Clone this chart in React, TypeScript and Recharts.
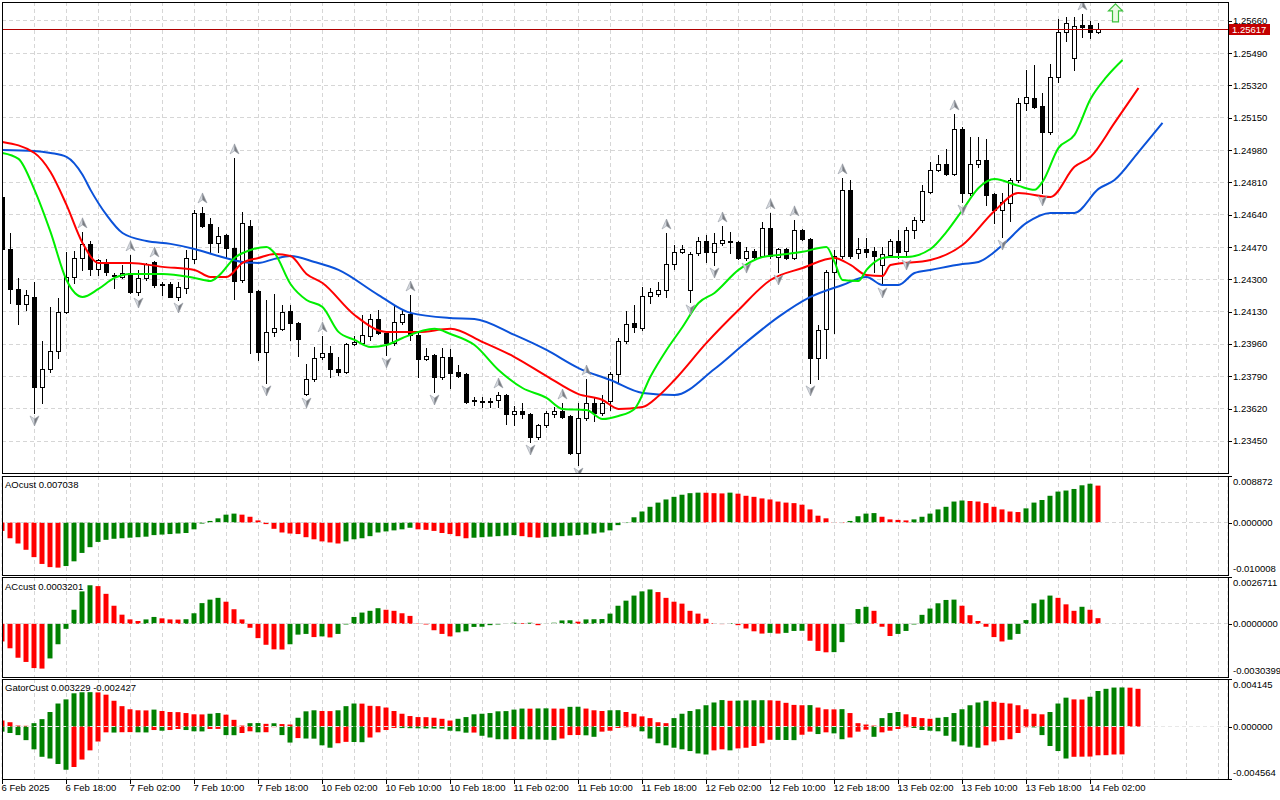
import React from "react";
import {
  ComposedChart,
  Bar,
  Line,
  Scatter,
  XAxis,
  YAxis,
  CartesianGrid,
  ReferenceLine,
  Cell,
} from "recharts";

const FONT = "'Liberation Sans', Arial, sans-serif";
const FS = 9.5;
const CHART_W = 1280;
const AXIS_W = 52;
const PLOT_RIGHT = CHART_W - AXIS_W; // 1228
const X_DOMAIN: [number, number] = [-0.0625, 153.1875];
const GRID_X = Array.from({ length: 39 }, (_, j) => j * 4);
const GRID_COLOR = "#d6d6d6";
const GRID_DASH = "4 3";
const UP_COL = "#008000";
const DN_COL = "#ff0000";

// H1 candles, 6 Feb 10:00 .. 14 Feb 03:00 : [open, high, low, close]
const ohlc: [number, number, number, number][] = [
  [1.24734, 1.24744, 1.24455, 1.2446], [1.2446, 1.24544, 1.24176, 1.2425], [1.2425, 1.24308, 1.24066, 1.24171],
  [1.24171, 1.24245, 1.24139, 1.24218], [1.24208, 1.24287, 1.23598, 1.23734], [1.23734, 1.23976, 1.2365, 1.23829],
  [1.23829, 1.24155, 1.23813, 1.23924], [1.23924, 1.24203, 1.23887, 1.24129], [1.24129, 1.24444, 1.24124, 1.24313],
  [1.24313, 1.2445, 1.24281, 1.24413], [1.24413, 1.2455, 1.2435, 1.24487], [1.24487, 1.24502, 1.24323, 1.24355],
  [1.24355, 1.24408, 1.24323, 1.24402], [1.24392, 1.24408, 1.24323, 1.24339], [1.24318, 1.24334, 1.24255, 1.24323],
  [1.24313, 1.24376, 1.24308, 1.24334], [1.24334, 1.24429, 1.24229, 1.24234], [1.24234, 1.2435, 1.24218, 1.24308],
  [1.24308, 1.24387, 1.24297, 1.24381], [1.24392, 1.24397, 1.2426, 1.24271], [1.24276, 1.24287, 1.24218, 1.24274],
  [1.24276, 1.24287, 1.24205, 1.24208], [1.24208, 1.24287, 1.24192, 1.2426], [1.24255, 1.24455, 1.24229, 1.24413],
  [1.24408, 1.24665, 1.24387, 1.2465], [1.2465, 1.24681, 1.24576, 1.24581], [1.24592, 1.24623, 1.24445, 1.24492],
  [1.24492, 1.24576, 1.24445, 1.24529], [1.24534, 1.2454, 1.24413, 1.24466], [1.24466, 1.24939, 1.24197, 1.24292],
  [1.24297, 1.24655, 1.24287, 1.24597], [1.24581, 1.24613, 1.23913, 1.24234], [1.24239, 1.24245, 1.23876, 1.23919],
  [1.23919, 1.24192, 1.23756, 1.24024], [1.24024, 1.24224, 1.24003, 1.24045], [1.2404, 1.24166, 1.24034, 1.24129],
  [1.24134, 1.24166, 1.23982, 1.24071], [1.24071, 1.24076, 1.23897, 1.23987], [1.23697, 1.23855, 1.23692, 1.23776],
  [1.23776, 1.23945, 1.23766, 1.23887], [1.23892, 1.24003, 1.23882, 1.23913], [1.23913, 1.2395, 1.23787, 1.23829],
  [1.23829, 1.23892, 1.23797, 1.23813], [1.23813, 1.23966, 1.23808, 1.23961], [1.23961, 1.24003, 1.23955, 1.23971],
  [1.23966, 1.24113, 1.23961, 1.24008], [1.24003, 1.24118, 1.23982, 1.24092], [1.24092, 1.24139, 1.24013, 1.24019],
  [1.24019, 1.24024, 1.23903, 1.23966], [1.23966, 1.24166, 1.23955, 1.24076], [1.24076, 1.24145, 1.24066, 1.24118],
  [1.24118, 1.24218, 1.23982, 1.24008], [1.24008, 1.24019, 1.23787, 1.23882], [1.23882, 1.2394, 1.23876, 1.23897],
  [1.23903, 1.23908, 1.23708, 1.23787], [1.23787, 1.2394, 1.23776, 1.23892], [1.23892, 1.23934, 1.23729, 1.23808],
  [1.23813, 1.2385, 1.23788, 1.23792], [1.23803, 1.23808, 1.2365, 1.23656], [1.23666, 1.23682, 1.2364, 1.23661],
  [1.23661, 1.23682, 1.23629, 1.23659], [1.23661, 1.23676, 1.23629, 1.23656], [1.23666, 1.23708, 1.23629, 1.23692],
  [1.23692, 1.23697, 1.2354, 1.23592], [1.23592, 1.23634, 1.23535, 1.23608], [1.23608, 1.2365, 1.23571, 1.23592],
  [1.23592, 1.23597, 1.23445, 1.23471], [1.23471, 1.2354, 1.23461, 1.23535], [1.23535, 1.23608, 1.23524, 1.23598],
  [1.23592, 1.23629, 1.23577, 1.23608], [1.23608, 1.2365, 1.23571, 1.23577], [1.23582, 1.23587, 1.23382, 1.23387],
  [1.23387, 1.2365, 1.23324, 1.23571], [1.23571, 1.23776, 1.23561, 1.2365], [1.2365, 1.23682, 1.23556, 1.23598],
  [1.23598, 1.23692, 1.23587, 1.2365], [1.23661, 1.23813, 1.23613, 1.23803], [1.23803, 1.23992, 1.23761, 1.23976],
  [1.23976, 1.24134, 1.23966, 1.24066], [1.24071, 1.24166, 1.24024, 1.2405], [1.24045, 1.2426, 1.24034, 1.24213],
  [1.24213, 1.24255, 1.24176, 1.24234], [1.24224, 1.24287, 1.24213, 1.24245], [1.24245, 1.24544, 1.24208, 1.24381],
  [1.24381, 1.24481, 1.24355, 1.24445], [1.24445, 1.24481, 1.24439, 1.2446], [1.24245, 1.24445, 1.24182, 1.24434],
  [1.24439, 1.24523, 1.24429, 1.24502], [1.24502, 1.24534, 1.24392, 1.24445], [1.24445, 1.24544, 1.24376, 1.24492],
  [1.24492, 1.24581, 1.24481, 1.24508], [1.24502, 1.2455, 1.24439, 1.245], [1.24497, 1.24502, 1.24408, 1.24413],
  [1.24413, 1.24471, 1.24402, 1.2445], [1.2445, 1.2446, 1.24413, 1.24418], [1.24423, 1.24602, 1.24418, 1.24571],
  [1.24571, 1.2465, 1.24413, 1.24423], [1.24418, 1.24466, 1.24339, 1.2446], [1.2446, 1.24466, 1.24408, 1.24413],
  [1.24413, 1.24613, 1.24408, 1.2456], [1.2456, 1.24566, 1.24508, 1.24513], [1.24513, 1.24518, 1.23756, 1.23887],
  [1.23887, 1.24061, 1.23777, 1.24034], [1.2404, 1.2435, 1.23887, 1.24339], [1.24339, 1.24455, 1.24018, 1.24423],
  [1.24423, 1.24834, 1.24413, 1.24771], [1.24771, 1.24823, 1.24413, 1.24423], [1.24439, 1.24518, 1.24413, 1.2446],
  [1.2446, 1.24518, 1.24418, 1.24445], [1.2445, 1.24471, 1.24339, 1.24423], [1.24376, 1.24471, 1.24271, 1.24434],
  [1.24429, 1.24513, 1.24418, 1.24502], [1.24502, 1.2456, 1.24413, 1.24445], [1.2445, 1.24576, 1.24418, 1.2456],
  [1.2456, 1.24629, 1.24518, 1.24613], [1.24613, 1.24797, 1.24602, 1.24765], [1.2476, 1.24918, 1.24755, 1.24876],
  [1.24876, 1.24955, 1.24871, 1.24907], [1.24907, 1.24986, 1.2485, 1.24855], [1.24855, 1.2517, 1.2485, 1.25091],
  [1.25091, 1.25102, 1.24707, 1.24755], [1.24755, 1.25049, 1.24744, 1.24907], [1.24907, 1.25049, 1.24892, 1.24928],
  [1.24928, 1.25039, 1.24692, 1.24744], [1.2475, 1.24755, 1.24597, 1.24665], [1.24665, 1.24755, 1.24523, 1.24707],
  [1.24702, 1.24834, 1.24607, 1.24823], [1.24823, 1.25254, 1.24813, 1.25228], [1.25228, 1.25402, 1.25191, 1.2526],
  [1.25254, 1.25428, 1.252, 1.25207], [1.25212, 1.25281, 1.24755, 1.25076], [1.25076, 1.25433, 1.25065, 1.25365],
  [1.25365, 1.2567, 1.25339, 1.25602], [1.25602, 1.25681, 1.25554, 1.25649], [1.25465, 1.25681, 1.25402, 1.25633],
  [1.25639, 1.25696, 1.25575, 1.25628], [1.25639, 1.2566, 1.2557, 1.25602], [1.25602, 1.25649, 1.25596, 1.25617],
];

// Alligator lines, read at [bar, price]; they run past the last candle by their shift
const lipsPts: [number, number][] = [
  [0, 1.24965], [2, 1.24934], [4, 1.24771], [6, 1.2455], [8, 1.24297], [10, 1.24208], [12, 1.2425], [14, 1.24308],
  [16, 1.24329], [20, 1.24329], [24, 1.24308], [26, 1.24292], [27, 1.24318], [29, 1.24413], [31, 1.24455], [33, 1.24471],
  [34, 1.24439], [36, 1.24276], [38, 1.24192], [40, 1.24155], [42, 1.24024], [44, 1.23982], [46, 1.23945], [48, 1.23955],
  [50, 1.23992], [54, 1.2404], [56, 1.24013], [59, 1.23955], [62, 1.23824], [65, 1.23729], [68, 1.23677], [70, 1.23619],
  [73, 1.23613], [75, 1.23566], [77, 1.23582], [79, 1.23619], [81, 1.2379], [83, 1.23929], [85, 1.2405], [87, 1.24176],
  [89, 1.24229], [92, 1.2435], [95, 1.24418], [97, 1.24429], [100, 1.24445], [103, 1.24471], [104, 1.24392], [105, 1.24297],
  [107, 1.24292], [108, 1.2435], [110, 1.24413], [111, 1.24418], [113, 1.24418], [116, 1.2446], [118, 1.2455], [120, 1.24665],
  [122, 1.24781], [124, 1.24828], [127, 1.24792], [129, 1.24771], [130, 1.24813], [132, 1.24992], [134, 1.2506], [136, 1.25249],
  [138, 1.25365], [140, 1.25454],
];
const teethPts: [number, number][] = [
  [0, 1.25023], [4, 1.24965], [6, 1.24865], [8, 1.24692], [10, 1.24492], [12, 1.24387], [16, 1.24387], [20, 1.24366],
  [24, 1.2435], [26, 1.24313], [28, 1.24313], [30, 1.24387], [32, 1.24413], [34, 1.24434], [36, 1.24423], [38, 1.24329],
  [40, 1.24281], [44, 1.24113], [48, 1.24024], [52, 1.24024], [56, 1.2404], [60, 1.23971], [64, 1.23892], [68, 1.23792],
  [72, 1.23697], [75, 1.23666], [77, 1.23619], [80, 1.23629], [82, 1.23687], [84, 1.23771], [88, 1.23966], [92, 1.24139],
  [96, 1.24297], [100, 1.2436], [104, 1.24413], [106, 1.24376], [108, 1.24323], [110, 1.24318], [111, 1.24376], [116, 1.24402],
  [120, 1.24481], [124, 1.2466], [127, 1.24755], [131, 1.24734], [134, 1.24892], [136, 1.24944], [139, 1.25123], [142, 1.25307],
];
const jawPts: [number, number][] = [
  [0, 1.24981], [4, 1.24976], [6, 1.24965], [8, 1.24944], [10, 1.2485], [11, 1.24771], [13, 1.24639], [15, 1.24544],
  [18, 1.24502], [21, 1.24487], [24, 1.2446], [27, 1.24423], [30, 1.24392], [32, 1.24387], [34, 1.24408], [36, 1.24423],
  [39, 1.24392], [42, 1.2435], [47, 1.24218], [51, 1.24124], [56, 1.24097], [59, 1.24092], [64, 1.24008], [68, 1.23929],
  [72, 1.23834], [76, 1.23771], [80, 1.23703], [84, 1.23692], [89, 1.23829], [93, 1.23971], [97, 1.24103], [101, 1.24208],
  [105, 1.24271], [108, 1.24313], [110, 1.24271], [112, 1.24271], [114, 1.24334], [116, 1.2435], [120, 1.24381], [122, 1.24392],
  [125, 1.24481], [128, 1.24597], [131, 1.2465], [134, 1.2465], [137, 1.24776], [139, 1.24823], [142, 1.2497], [145, 1.25123],
];

const upFractalBars = [10, 16, 19, 25, 29, 40, 51, 62, 70, 73, 83, 90, 96, 99, 105, 119, 135];
const downFractalBars = [4, 17, 22, 33, 38, 48, 54, 66, 72, 86, 89, 93, 97, 101, 110, 113, 120, 125, 130];
const buySignal = { i: 139, p: 1.25702 };

const aoValues = [
  -0.0016, -0.003, -0.004, -0.0052, -0.0066, -0.0079, -0.0085, -0.0086, -0.0083, -0.0074, -0.0058, -0.0047, -0.0037, -0.0033,
  -0.0031, -0.003, -0.0029, -0.0028, -0.0027, -0.0024, -0.0023, -0.0022, -0.0021, -0.002, -0.0013, -0.0002, 0.0003, 0.0008,
  0.0015, 0.0017, 0.0015, 0.0011, 0.0004, -0.0003, -0.0012, -0.0019, -0.0021, -0.0022, -0.0028, -0.0032, -0.0036, -0.0038,
  -0.004, -0.0036, -0.0032, -0.003, -0.0026, -0.0019, -0.0017, -0.0015, -0.0013, -0.001, -0.0013, -0.0014, -0.0016, -0.002,
  -0.0022, -0.0026, -0.003, -0.0029, -0.0028, -0.0027, -0.0026, -0.0025, -0.0024, -0.0026, -0.0028, -0.0029, -0.0028, -0.0027,
  -0.0026, -0.0025, -0.0024, -0.0023, -0.0021, -0.0019, -0.0015, -0.0005, -0.0001, 0.001, 0.0021, 0.003, 0.0038, 0.0044,
  0.0049, 0.0053, 0.0056, 0.0057, 0.00568, 0.0056, 0.00555, 0.0057, 0.0055, 0.0051, 0.0049, 0.0046, 0.0044, 0.004,
  0.0038, 0.0037, 0.0034, 0.0025, 0.0013, 0.0008, 0.0001, -0.0001, 0.0003, 0.0012, 0.0017, 0.0018, 0.0011, 0.0006,
  0.0005, 0.0004, 0.0006, 0.0011, 0.0017, 0.0025, 0.003, 0.004, 0.0042, 0.0041, 0.004, 0.0037, 0.003, 0.0025,
  0.0021, 0.002, 0.0027, 0.0038, 0.0043, 0.0051, 0.0059, 0.0061, 0.0064, 0.0071, 0.0074, 0.00704,
];
const acValues = [
  -0.00101, -0.0014, -0.00194, -0.00218, -0.00253, -0.00256, -0.00198, -0.00117, -0.00029, 0.0008, 0.00185, 0.0022, 0.00215,
  0.00171, 0.00103, 0.00052, 0.00025, 0.00016, 0.00025, 0.00039, 0.00031, 0.00025, 0.00024, 0.00026, 0.0006, 0.00118,
  0.00138, 0.00148, 0.00126, 0.00083, 0.00025, -0.00023, -0.00082, -0.0012, -0.00146, -0.00147, -0.00117, -0.00062,
  -0.00058, -0.00076, -0.00072, -0.00078, -0.00058, -0.00004, 0.00039, 0.00064, 0.00074, 0.00089, 0.0008, 0.00074,
  0.0006, 0.00045, 0.00002, -0.00004, -0.00037, -0.00058, -0.00072, -0.00049, -0.00043, -0.00018, -0.00017, -0.00008,
  -0.00004, 0.00001, 0.00006, 0.00004, 0.00006, -0.00008, -0.00001, 0.00006, 0.00019, 0.0002, 0.00012, 0.00025, 0.00026,
  0.00027, 0.00058, 0.00103, 0.00132, 0.00161, 0.00185, 0.00196, 0.00181, 0.00148, 0.00126, 0.00115, 0.00074, 0.00058,
  0.00029, 0.00004, -0.00002, 0.00004, -0.00008, -0.00027, -0.00043, -0.00056, -0.00052, -0.00056, -0.00052, -0.00041,
  -0.0004, -0.00097, -0.00155, -0.00163, -0.00162, -0.00105, -0.00002, 0.00084, 0.00097, 0.00074, -0.00017, -0.0007,
  -0.00058, -0.00041, -0.00004, 0.00051, 0.00087, 0.00117, 0.00136, 0.00138, 0.00103, 0.00049, 0.00016, -0.00017,
  -0.00076, -0.00101, -0.00091, -0.00058, 0.00021, 0.00117, 0.00138, 0.00161, 0.00148, 0.00111, 0.00074, 0.00097, 0.0008,
  0.00032,
];
const gatorUpper = [
  0.00053, 0.00038, 0.00009, 0.00007, 0.0003, 0.00065, 0.00127, 0.00201, 0.00237, 0.0029, 0.00299, 0.003, 0.00298, 0.00278,
  0.00225, 0.00178, 0.00151, 0.00142, 0.00141, 0.00148, 0.00136, 0.00127, 0.00126, 0.00118, 0.00107, 0.00106, 0.00112,
  0.00118, 0.00104, 0.00059, 0.00009, 0.0003, 0.00031, 0.00024, 0.00029, 0.00022, 0.00018, 0.00077, 0.00133, 0.00142,
  0.00136, 0.00135, 0.00142, 0.00178, 0.00201, 0.002, 0.00181, 0.00178, 0.00166, 0.00136, 0.00112, 0.00092, 0.00083,
  0.00082, 0.00077, 0.00068, 0.00053, 0.00068, 0.00083, 0.00107, 0.00112, 0.00118, 0.00133, 0.00135, 0.00148, 0.00157,
  0.00156, 0.00158, 0.00159, 0.00157, 0.00156, 0.00172, 0.00173, 0.00157, 0.00142, 0.00136, 0.00142, 0.00143, 0.00127,
  0.00112, 0.00089, 0.00074, 0.00038, 0.0003, 0.00074, 0.00112, 0.00136, 0.00151, 0.00186, 0.0021, 0.00231, 0.00225,
  0.00226, 0.00228, 0.00229, 0.0023, 0.00229, 0.00225, 0.00207, 0.00189, 0.00186, 0.00187, 0.00166, 0.00151, 0.0015,
  0.00152, 0.00118, 0.0003, 0.00018, 0.00009, 0.00074, 0.00118, 0.00127, 0.00107, 0.00083, 0.00074, 0.00068, 0.00077,
  0.00083, 0.00118, 0.00151, 0.00186, 0.0021, 0.00225, 0.00216, 0.00207, 0.00201, 0.00186, 0.00151, 0.00112, 0.00107,
  0.00127, 0.00201, 0.00252, 0.00237, 0.00236, 0.0026, 0.0031, 0.00329, 0.0034, 0.00341, 0.00339, 0.00329,
];
const gatorLower = [
  -0.00044, -0.00056, -0.00074, -0.00118, -0.00198, -0.00263, -0.00278, -0.00326, -0.00376, -0.00352, -0.00287, -0.00207,
  -0.0013, -0.0005, -0.00052, -0.00049, -0.00048, -0.0005, -0.00051, -0.0003, -0.00036, -0.0003, -0.00021, -0.0003,
  -0.00041, -0.00042, -0.00021, -0.0002, -0.00074, -0.00075, -0.00056, -0.00041, -0.0005, -0.00049, -0.00005, -0.00074,
  -0.00139, -0.001, -0.00104, -0.00105, -0.00163, -0.00184, -0.00145, -0.00133, -0.00134, -0.00136, -0.00095, -0.0005,
  -0.0003, -0.00012, -0.00013, -0.00014, -0.00015, -0.00016, -0.00017, -0.00018, -0.00036, -0.00041, -0.00053, -0.00052,
  -0.0008, -0.00095, -0.0011, -0.00111, -0.00109, -0.0011, -0.00111, -0.00112, -0.00115, -0.00118, -0.00104, -0.00074,
  -0.00073, -0.00076, -0.00089, -0.00044, -0.00036, -0.00012, -0.00006, -0.00005, -0.00041, -0.00104, -0.00145, -0.00163,
  -0.00184, -0.00198, -0.00213, -0.00234, -0.00243, -0.00207, -0.00198, -0.00207, -0.0019, -0.00184, -0.00169, -0.00145,
  -0.00115, -0.00116, -0.00117, -0.00118, -0.00071, -0.00044, -0.00065, -0.0005, -0.00059, -0.0011, -0.00095, -0.00044,
  -0.00027, -0.00089, -0.0005, -0.00036, -0.00021, -0.00006, -0.00012, -0.0003, -0.00036, -0.00041, -0.0008, -0.0013,
  -0.00163, -0.00175, -0.00184, -0.00163, -0.0013, -0.00118, -0.0011, -0.00056, -0.00006, -0.00007, -0.00074, -0.00169,
  -0.00213, -0.00278, -0.00263, -0.00262, -0.00261, -0.0025, -0.00249, -0.00243, -0.00242,
];

const priceTicks = [
  1.2345, 1.2362, 1.2379, 1.2396, 1.2413, 1.243, 1.2447, 1.2464, 1.2481, 1.2498, 1.2515, 1.2532, 1.2549, 1.2566,
];
const timeLabels = [
  "6 Feb 2025", "6 Feb 18:00", "7 Feb 02:00", "7 Feb 10:00", "7 Feb 18:00", "10 Feb 02:00", "10 Feb 10:00",
  "10 Feb 18:00", "11 Feb 02:00", "11 Feb 10:00", "11 Feb 18:00", "12 Feb 02:00", "12 Feb 10:00", "12 Feb 18:00",
  "13 Feb 02:00", "13 Feb 10:00", "13 Feb 18:00", "14 Feb 02:00",
];

const PRICE_DOMAIN: [number, number] = [1.23282, 1.25759];
const AO_DOMAIN: [number, number] = [-0.010008, 0.008872];
const AC_DOMAIN: [number, number] = [-0.0030399, 0.0026711];
const GATOR_DOMAIN: [number, number] = [-0.004564, 0.004145];

// colour each bar by whether its (absolute) value grew from the previous bar
function changeColors(vals: (number | null)[], first: string) {
  const out: string[] = [];
  vals.forEach((v, i) => {
    const prev = vals[i - 1];
    if (i === 0 || v == null || prev == null) {
      out.push(i === 0 ? first : out[i - 1]);
      return;
    }
    const a = Math.abs(v);
    const b = Math.abs(prev);
    out.push(a > b ? UP_COL : a < b ? DN_COL : out[i - 1]);
  });
  return out;
}
function signedColors(vals: number[], first: string) {
  const out: string[] = [];
  vals.forEach((v, i) => {
    if (i === 0) return out.push(first);
    out.push(v > vals[i - 1] ? UP_COL : v < vals[i - 1] ? DN_COL : out[i - 1]);
  });
  return out;
}

const candleRows = ohlc.map(([o, h, l, c], i) => ({ i, o, h, l, c, range: [l, h] }));
const toRows = (pts: [number, number][]) => pts.map(([i, p]) => ({ i, p }));
const upRows = upFractalBars.map((i) => ({ i, p: ohlc[i][1] }));
const dnRows = downFractalBars.map((i) => ({ i, p: ohlc[i][2] }));
const lastClose = ohlc[ohlc.length - 1][3];

const Candle = (props: any) => {
  const { x, y, width, height, payload } = props;
  if (x == null || payload == null) return null;
  const { o, h, l, c } = payload;
  const col = Math.floor(x + width / 2);
  const py = (v: number) => (h === l ? y : y + ((h - v) / (h - l)) * height);
  const top = Math.round(Math.min(py(o), py(c))) + 0.5;
  const bot = Math.max(Math.round(Math.max(py(o), py(c))) + 0.5, top + 1);
  const bull = c >= o;
  return (
    <g>
      <line x1={col + 0.5} x2={col + 0.5} y1={Math.round(y)} y2={Math.round(y + height) + 1} stroke="#000" strokeWidth={1} />
      <rect x={col - 1.5} y={top} width={4} height={bot - top} fill={bull ? "#fff" : "#000"} stroke="#000" strokeWidth={1} />
    </g>
  );
};

// grey "paper plane" fractal marks
const FractalUp = (props: any) => {
  const x = props.cx;
  const y = props.cy - 9;
  return (
    <g>
      <polygon points={`${x},${y - 5} ${x},${y + 2} ${x - 4.5},${y + 5}`} fill="#d4d8de" stroke="#9aa0a8" strokeWidth={0.6} />
      <polygon points={`${x},${y - 5} ${x + 4.5},${y + 5} ${x},${y + 2}`} fill="#7a7d82" stroke="#9aa0a8" strokeWidth={0.6} />
    </g>
  );
};
const FractalDown = (props: any) => {
  const x = props.cx;
  const y = props.cy + 8;
  return (
    <g>
      <polygon points={`${x},${y + 5} ${x},${y - 2} ${x - 4.5},${y - 5}`} fill="#d4d8de" stroke="#9aa0a8" strokeWidth={0.6} />
      <polygon points={`${x},${y + 5} ${x + 4.5},${y - 5} ${x},${y - 2}`} fill="#7a7d82" stroke="#9aa0a8" strokeWidth={0.6} />
    </g>
  );
};
const SignalArrow = (props: any) => {
  const x = Math.round(props.cx) + 0.5;
  const y = props.cy;
  const d = `M${x},${y - 9} L${x + 7},${y - 2} L${x + 3},${y - 2} L${x + 3},${y + 9} L${x - 3},${y + 9} L${x - 3},${y - 2} L${x - 7},${y - 2} Z`;
  return <path d={d} fill="#eafbe4" stroke="#3dc23d" strokeWidth={1.2} />;
};

const PriceTick = (props: any) => {
  const { y, payload } = props;
  const ly = Math.round(y) + 0.5;
  return (
    <g>
      <line x1={PLOT_RIGHT} x2={PLOT_RIGHT + 4} y1={ly} y2={ly} stroke="#000" />
      <text x={PLOT_RIGHT + 5} y={y + 3.4} fontSize={FS} fontFamily={FONT} fill="#000">
        {Number(payload.value).toFixed(5)}
      </text>
    </g>
  );
};

const PriceTag = (props: any) => {
  const vb = props.viewBox || {};
  const y = Math.round(vb.y ?? 0);
  return (
    <g>
      <rect x={PLOT_RIGHT + 1} y={y - 5} width={41} height={11} fill="#c40000" />
      <text x={PLOT_RIGHT + 4} y={y + 4} fontSize={FS} fontFamily={FONT} fill="#fff">
        {lastClose.toFixed(5)}
      </text>
    </g>
  );
};

const sideTick = (domain: [number, number], digits: number) => (props: any) => {
  const { y, payload } = props;
  const v = Number(payload.value);
  let ty = y + 3.4;
  if (v === domain[1]) ty = y + 8.5;
  if (v === domain[0]) ty = y - 3.5;
  const ly = Math.round(y) + 0.5;
  return (
    <g>
      <line x1={PLOT_RIGHT} x2={PLOT_RIGHT + 4} y1={ly} y2={ly} stroke="#000" />
      <text x={PLOT_RIGHT + 5} y={ty} fontSize={FS} fontFamily={FONT} fill="#000">
        {v.toFixed(digits)}
      </text>
    </g>
  );
};

const TimeTick = (props: any) => {
  const { x, payload } = props;
  const v = Number(payload.value);
  if (v % 8 !== 0 || !timeLabels[v / 8]) return <g />;
  const px = Math.floor(x) + 0.5;
  return (
    <g>
      <line x1={px} x2={px} y1={101} y2={105} stroke="#000" />
      <text x={x - 1} y={112} fontSize={FS} fontFamily={FONT} fill="#000">
        {timeLabels[v / 8]}
      </text>
    </g>
  );
};

function OscPanel({ top, height, values, domain, digits }: any) {
  const rows = values.map((v: number, i: number) => ({ i, v }));
  const colors = signedColors(values, DN_COL);
  return (
    <div style={{ position: "absolute", left: 0, top }}>
      <ComposedChart width={CHART_W} height={height} data={rows} margin={{ top: 0, right: 0, bottom: 0, left: 2 }}>
        <CartesianGrid horizontal={false} stroke={GRID_COLOR} strokeDasharray={GRID_DASH} />
        <XAxis dataKey="i" type="number" domain={X_DOMAIN} ticks={GRID_X} allowDataOverflow hide />
        <YAxis
          orientation="right"
          width={AXIS_W}
          domain={domain}
          allowDataOverflow
          ticks={[domain[0], 0, domain[1]]}
          interval={0}
          axisLine={false}
          tickLine={false}
          tick={sideTick(domain, digits)}
        />
        <ReferenceLine y={0} stroke={GRID_COLOR} strokeDasharray={GRID_DASH} shapeRendering="crispEdges" />
        <Bar dataKey="v" barSize={5} isAnimationActive={false}>
          {rows.map((r: any) => (
            <Cell key={r.i} fill={colors[r.i]} />
          ))}
        </Bar>
      </ComposedChart>
    </div>
  );
}

function GatorPanel() {
  const rows = gatorUpper.map((up, i) => ({ i, up, dn: i < gatorLower.length ? gatorLower[i] : null }));
  const upCols = changeColors(gatorUpper, DN_COL);
  const dnCols = changeColors(gatorLower, UP_COL);
  return (
    <div style={{ position: "absolute", left: 0, top: 679 }}>
      <ComposedChart
        width={CHART_W}
        height={121}
        data={rows}
        stackOffset="sign"
        margin={{ top: 0, right: 0, bottom: 0, left: 2 }}
      >
        <CartesianGrid horizontal={false} stroke={GRID_COLOR} strokeDasharray={GRID_DASH} />
        <XAxis
          dataKey="i"
          type="number"
          domain={X_DOMAIN}
          ticks={GRID_X}
          allowDataOverflow
          height={21}
          interval={0}
          axisLine={false}
          tickLine={false}
          tick={TimeTick}
        />
        <YAxis
          orientation="right"
          width={AXIS_W}
          domain={GATOR_DOMAIN}
          allowDataOverflow
          ticks={[GATOR_DOMAIN[0], 0, GATOR_DOMAIN[1]]}
          interval={0}
          axisLine={false}
          tickLine={false}
          tick={sideTick(GATOR_DOMAIN, 6)}
        />
        <Bar dataKey="up" stackId="g" barSize={5} isAnimationActive={false}>
          {rows.map((r) => (
            <Cell key={`u${r.i}`} fill={upCols[r.i]} />
          ))}
        </Bar>
        <Bar dataKey="dn" stackId="g" barSize={5} isAnimationActive={false}>
          {rows.map((r) => (
            <Cell key={`d${r.i}`} fill={dnCols[r.i] || UP_COL} />
          ))}
        </Bar>
        <ReferenceLine y={0} stroke="#e8e8e8" strokeDasharray={GRID_DASH} shapeRendering="crispEdges" />
      </ComposedChart>
    </div>
  );
}

function MainPanel() {
  return (
    <div style={{ position: "absolute", left: 0, top: 2 }}>
      <ComposedChart width={CHART_W} height={471} data={candleRows} margin={{ top: 0, right: 0, bottom: 0, left: 2 }}>
        <CartesianGrid stroke={GRID_COLOR} strokeDasharray={GRID_DASH} shapeRendering="crispEdges" />
        <XAxis dataKey="i" type="number" domain={X_DOMAIN} ticks={GRID_X} allowDataOverflow hide />
        <YAxis
          orientation="right"
          width={AXIS_W}
          domain={PRICE_DOMAIN}
          allowDataOverflow
          ticks={priceTicks}
          interval={0}
          axisLine={false}
          tickLine={false}
          tick={PriceTick}
        />
        <ReferenceLine y={lastClose} stroke="#b00000" strokeWidth={1} shapeRendering="crispEdges" label={PriceTag} />
        <Bar dataKey="range" barSize={5} shape={Candle} isAnimationActive={false} />
        <Line data={toRows(jawPts)} dataKey="p" type="monotone" stroke="#0b52d9" strokeWidth={2} dot={false} isAnimationActive={false} />
        <Line data={toRows(teethPts)} dataKey="p" type="monotone" stroke="#ff0000" strokeWidth={2} dot={false} isAnimationActive={false} />
        <Line data={toRows(lipsPts)} dataKey="p" type="monotone" stroke="#00ee00" strokeWidth={2} dot={false} isAnimationActive={false} />
        <Scatter data={upRows} dataKey="p" shape={FractalUp} isAnimationActive={false} />
        <Scatter data={dnRows} dataKey="p" shape={FractalDown} isAnimationActive={false} />
        <Scatter data={[buySignal]} dataKey="p" shape={SignalArrow} isAnimationActive={false} />
      </ComposedChart>
    </div>
  );
}

export default function App() {
  const frames = [
    { y: 2.5, h: 471 },
    { y: 476.5, h: 99 },
    { y: 577.5, h: 100 },
    { y: 679.5, h: 100 },
  ];
  return (
    <div style={{ position: "absolute", left: 0, top: 0, width: 1280, height: 800, background: "#fff", overflow: "hidden" }}>
      <MainPanel />
      <OscPanel top={476} height={99} values={aoValues} domain={AO_DOMAIN} digits={6} />
      <OscPanel top={577} height={100} values={acValues} domain={AC_DOMAIN} digits={7} />
      <GatorPanel />
      <svg width={1280} height={800} style={{ position: "absolute", left: 0, top: 0, pointerEvents: "none" }}>
        {frames.map((f) => (
          <rect key={f.y} x={2.5} y={f.y} width={1226} height={f.h} fill="none" stroke="#000" strokeWidth={1} />
        ))}
        <text x={5} y={488} fontSize={FS} fontFamily={FONT} fill="#000">AOcust 0.007038</text>
        <text x={5} y={590} fontSize={FS} fontFamily={FONT} fill="#000">ACcust 0.0003201</text>
        <text x={5} y={691} fontSize={FS} fontFamily={FONT} fill="#000">GatorCust 0.003229 -0.002427</text>
      </svg>
    </div>
  );
}
